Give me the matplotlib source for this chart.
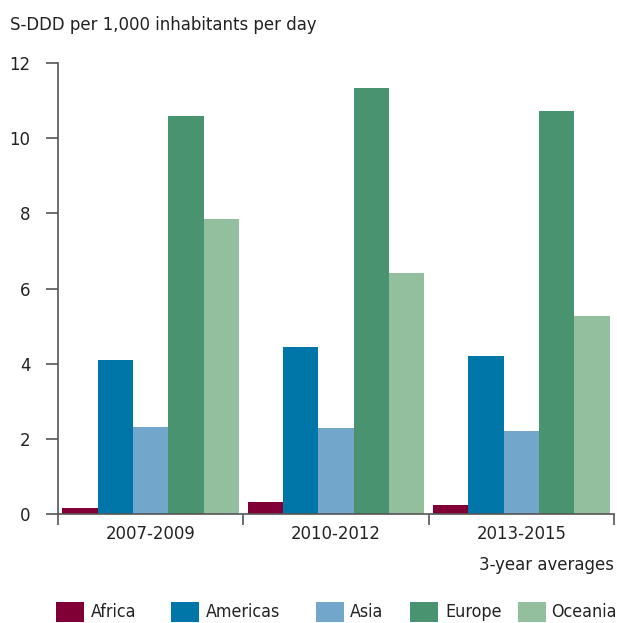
import matplotlib
matplotlib.use("Agg")
import matplotlib.pyplot as plt
import numpy as np
from matplotlib.patches import Rectangle

plt.rcParams['font.family'] = ['DejaVu Sans']
plt.rcParams['font.stretch'] = 'condensed'

periods = ["2007-2009", "2010-2012", "2013-2015"]
regions = ["Africa", "Americas", "Asia", "Europe", "Oceania"]
africa = [0.15, 0.32, 0.24]
americas = [4.10, 4.44, 4.20]
asia = [2.31, 2.29, 2.21]
europe = [10.59, 11.33, 10.72]
oceania = [7.85, 6.41, 5.27]
series = [africa, americas, asia, europe, oceania]
colors = ["#800035", "#0076a8", "#72a7cb", "#4a9370", "#93bf9f"]
yticks = [0, 2, 4, 6, 8, 10, 12]

txt = "#222222"
fs = 13.2
W, H = 617, 623
fig = plt.figure(figsize=(6.17, 6.23), dpi=100)
ax = fig.add_axes([58/W, 1-514/H, (614-58)/W, (514-63)/H])

n = len(regions)
bw = 0.955 / n
x = np.arange(len(periods))
for i, (vals, c) in enumerate(zip(series, colors)):
    ax.bar(x - 0.4775 + bw*(i+0.5), vals, width=bw, color=c, label=regions[i], zorder=2)

ax.set_xlim(-0.5, len(periods)-0.5)
ax.set_ylim(0, 12)
ax.set_yticks(yticks)
ax.set_yticklabels([str(v) for v in yticks], fontsize=fs, color=txt)
ax.tick_params(axis='y', direction='out', length=9, width=1.2, color="#555555", pad=11)
ax.set_xticks(x)
ax.set_xticklabels(periods, fontsize=fs, color=txt)
ax.tick_params(axis='x', length=0, pad=8)
ax.set_xticks(np.arange(-0.5, len(periods)), minor=True)
ax.tick_params(axis='x', which='minor', direction='out', length=8, width=1.2, color="#555555")
for s in ['top', 'right']:
    ax.spines[s].set_visible(False)
for s in ['left', 'bottom']:
    ax.spines[s].set_color("#555555")
    ax.spines[s].set_linewidth(1.2)

fig.text(10/W, 1-25/H, "S-DDD per 1,000 inhabitants per day", fontsize=fs, color=txt, va='center', ha='left')
fig.text(614/W, 1-565/H, "3-year averages", fontsize=fs, color=txt, va='center', ha='right')

# legend, laid out manually
patch_x = [56, 171, 316, 410, 518]
text_x = [91, 206, 350, 445, 551]
ly = 612
for px, tx, c, r in zip(patch_x, text_x, colors, regions):
    fig.add_artist(Rectangle((px/W, 1-(ly+10)/H), 28/W, 20/H, transform=fig.transFigure,
                             facecolor=c, edgecolor='none'))
    fig.text(tx/W, 1-ly/H, r, fontsize=12.8, color=txt, va='center', ha='left')

fig.savefig("out.png", dpi=100)
